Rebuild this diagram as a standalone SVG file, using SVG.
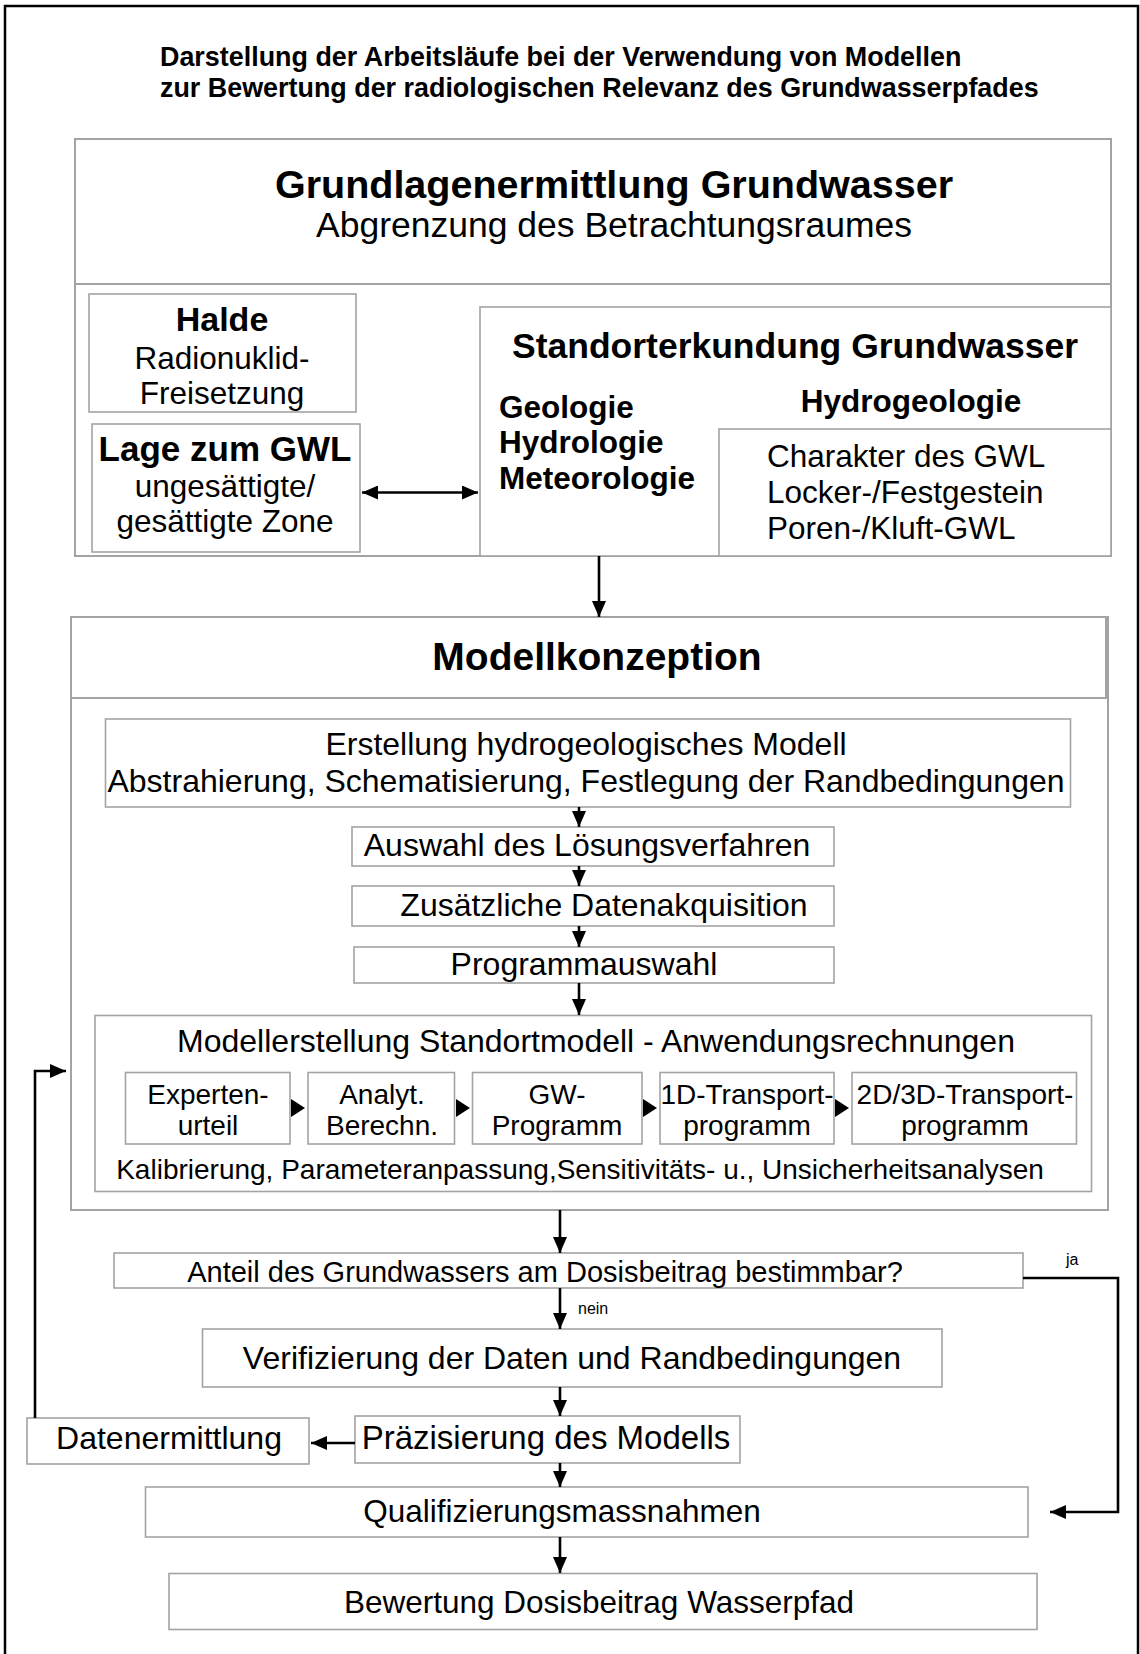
<svg xmlns="http://www.w3.org/2000/svg" width="1140" height="1654" viewBox="0 0 1140 1654">
<style>
.box{fill:#fff;stroke:#a3a3a3;stroke-width:2}
.sbox{fill:#fff;stroke:#a3a3a3;stroke-width:1.6}
text{font-family:"Liberation Sans",Arial,Helvetica,sans-serif;fill:#000}
.b{font-weight:bold}
.c{text-anchor:middle}
.conn{stroke:#000;stroke-width:2.6;fill:none}
.tri{fill:#000}
</style>
<defs>
<marker id="ah" markerUnits="userSpaceOnUse" markerWidth="17" markerHeight="14" refX="16" refY="7" orient="auto-start-reverse" viewBox="0 0 17 14">
<path d="M0,0 L16,7 L0,14 z" fill="#000"/>
</marker>
</defs>
<rect x="0" y="0" width="1140" height="1654" fill="#fff"/>
<path d="M5,1654 L5,6 L1138,6 L1138,1654" fill="none" stroke="#000" stroke-width="2.5"/>

<g id="title">
<text class="b" x="160" y="66" font-size="26.9">Darstellung der Arbeitsläufe bei der Verwendung von Modellen</text>
<text class="b" x="160" y="97" font-size="26.9">zur Bewertung der radiologischen Relevanz des Grundwasserpfades</text>
</g>

<g id="grundlagen">
<rect class="box" x="75" y="139" width="1036" height="417"/>
<line x1="75" y1="284" x2="1111" y2="284" stroke="#a3a3a3" stroke-width="2"/>
<text class="b c" x="614" y="198" font-size="39.5">Grundlagenermittlung Grundwasser</text>
<text class="c" x="614" y="237" font-size="35.5">Abgrenzung des Betrachtungsraumes</text>
</g>

<g id="halde">
<rect class="sbox" x="89" y="294" width="267" height="118"/>
<text class="b c" x="222" y="331" font-size="34">Halde</text>
<text class="c" x="222" y="369" font-size="31.5">Radionuklid-</text>
<text class="c" x="222" y="404" font-size="31.5">Freisetzung</text>
</g>

<g id="lage">
<rect class="sbox" x="92" y="424" width="268" height="128"/>
<text class="b c" x="225" y="461" font-size="35">Lage zum GWL</text>
<text class="c" x="225" y="497" font-size="31.5">ungesättigte/</text>
<text class="c" x="225" y="532" font-size="31.5">gesättigte Zone</text>
</g>

<g id="standort">
<rect class="sbox" x="480" y="307" width="631" height="249"/>
<text class="b c" x="795" y="358" font-size="35.5">Standorterkundung Grundwasser</text>
<text class="b" x="499" y="418" font-size="31.5">Geologie</text>
<text class="b" x="499" y="453" font-size="31.5">Hydrologie</text>
<text class="b" x="499" y="489" font-size="31.5">Meteorologie</text>
<text class="b c" x="911" y="412" font-size="31.5">Hydrogeologie</text>
</g>

<g id="hydrogeologie-details">
<rect class="sbox" x="719" y="429" width="392" height="127"/>
<text x="767" y="467" font-size="31.5">Charakter des GWL</text>
<text x="767" y="503" font-size="31.5">Locker-/Festgestein</text>
<text x="767" y="539" font-size="31.5">Poren-/Kluft-GWL</text>
</g>

<g id="modellkonzeption">
<rect class="box" x="71" y="617" width="1037" height="593"/>
<rect class="box" x="71" y="617" width="1035" height="81"/>
<text class="b c" x="597" y="670" font-size="39">Modellkonzeption</text>
</g>

<g id="erstellung">
<rect class="sbox" x="105.5" y="719" width="965" height="88"/>
<text class="c" x="586" y="755" font-size="32">Erstellung hydrogeologisches Modell</text>
<text class="c" x="586" y="792" font-size="32">Abstrahierung, Schematisierung, Festlegung der Randbedingungen</text>
</g>

<g id="auswahl">
<rect class="sbox" x="352" y="827" width="482" height="39"/>
<text class="c" x="587" y="856" font-size="32">Auswahl des Lösungsverfahren</text>
</g>

<g id="zusaetzliche">
<rect class="sbox" x="352" y="886" width="482" height="40"/>
<text class="c" x="604" y="916" font-size="32">Zusätzliche Datenakquisition</text>
</g>

<g id="programmauswahl">
<rect class="sbox" x="354" y="947" width="480" height="36"/>
<text class="c" x="584" y="975" font-size="32">Programmauswahl</text>
</g>

<g id="modellerstellung">
<rect class="sbox" x="95" y="1015.5" width="996.5" height="176"/>
<text class="c" x="596" y="1052" font-size="32">Modellerstellung Standortmodell - Anwendungsrechnungen</text>
<text class="c" x="580" y="1179" font-size="28">Kalibrierung, Parameteranpassung,Sensitivitäts- u., Unsicherheitsanalysen</text>
</g>

<g id="experten">
<rect class="sbox" x="125.5" y="1072.5" width="164.5" height="71.5"/>
<text class="c" x="208" y="1104" font-size="28">Experten-</text>
<text class="c" x="208" y="1135" font-size="28">urteil</text>
</g>
<g id="analyt">
<rect class="sbox" x="308" y="1072.5" width="146.5" height="71.5"/>
<text class="c" x="382" y="1104" font-size="28">Analyt.</text>
<text class="c" x="382" y="1135" font-size="28">Berechn.</text>
</g>
<g id="gw-programm">
<rect class="sbox" x="472.5" y="1072.5" width="169.5" height="71.5"/>
<text class="c" x="557" y="1104" font-size="28">GW-</text>
<text class="c" x="557" y="1135" font-size="28">Programm</text>
</g>
<g id="transport-1d">
<rect class="sbox" x="660" y="1072.5" width="174" height="71.5"/>
<text class="c" x="747" y="1104" font-size="28">1D-Transport-</text>
<text class="c" x="747" y="1135" font-size="28">programm</text>
</g>
<g id="transport-2d3d">
<rect class="sbox" x="852" y="1072.5" width="224.5" height="71.5"/>
<text class="c" x="965" y="1104" font-size="28">2D/3D-Transport-</text>
<text class="c" x="965" y="1135" font-size="28">programm</text>
</g>

<g id="anteil">
<rect class="sbox" x="114" y="1253" width="909" height="35"/>
<text class="c" x="545" y="1282" font-size="29">Anteil des Grundwassers am Dosisbeitrag bestimmbar?</text>
</g>

<g id="verifizierung">
<rect class="sbox" x="202.5" y="1329" width="739.5" height="58"/>
<text class="c" x="572" y="1369" font-size="32">Verifizierung der Daten und Randbedingungen</text>
</g>

<g id="praezisierung">
<rect class="sbox" x="355" y="1416" width="385" height="47"/>
<text class="c" x="546" y="1449" font-size="33">Präzisierung des Modells</text>
</g>

<g id="datenermittlung">
<rect class="sbox" x="27" y="1418" width="282" height="46"/>
<text class="c" x="169" y="1449" font-size="32">Datenermittlung</text>
</g>

<g id="qualifizierung">
<rect class="sbox" x="145.5" y="1487" width="882.5" height="50"/>
<text class="c" x="562" y="1522" font-size="31.5">Qualifizierungsmassnahmen</text>
</g>

<g id="bewertung">
<rect class="sbox" x="169" y="1573.5" width="868" height="56"/>
<text class="c" x="599" y="1613" font-size="31.5">Bewertung Dosisbeitrag Wasserpfad</text>
</g>

<g id="connectors">
<path class="conn" d="M362,492.5 L478,492.5" marker-start="url(#ah)" marker-end="url(#ah)"/>
<path class="conn" d="M599,556 L599,617" marker-end="url(#ah)"/>
<path class="conn" d="M579,807 L579,827" marker-end="url(#ah)"/>
<path class="conn" d="M579,866 L579,886" marker-end="url(#ah)"/>
<path class="conn" d="M579,926 L579,947" marker-end="url(#ah)"/>
<path class="conn" d="M579,983 L579,1015" marker-end="url(#ah)"/>
<polygon class="tri" points="291,1099 305,1108 291,1117"/>
<polygon class="tri" points="456,1099 470,1108 456,1117"/>
<polygon class="tri" points="643,1099 657,1108 643,1117"/>
<polygon class="tri" points="835,1099 849,1108 835,1117"/>
<path class="conn" d="M560,1210 L560,1253" marker-end="url(#ah)"/>
<path class="conn" d="M560,1288 L560,1329" marker-end="url(#ah)"/>
<text x="578" y="1314" font-size="16">nein</text>
<path class="conn" d="M1023,1278 L1118,1278 L1118,1512 L1050,1512" marker-end="url(#ah)"/>
<text x="1066" y="1265" font-size="16">ja</text>
<path class="conn" d="M560,1387 L560,1416" marker-end="url(#ah)"/>
<path class="conn" d="M355,1443 L311,1443" marker-end="url(#ah)"/>
<path class="conn" d="M35,1418 L35,1071 L66,1071" marker-end="url(#ah)"/>
<path class="conn" d="M560,1463 L560,1487" marker-end="url(#ah)"/>
<path class="conn" d="M560,1537 L560,1573" marker-end="url(#ah)"/>
</g>
</svg>
